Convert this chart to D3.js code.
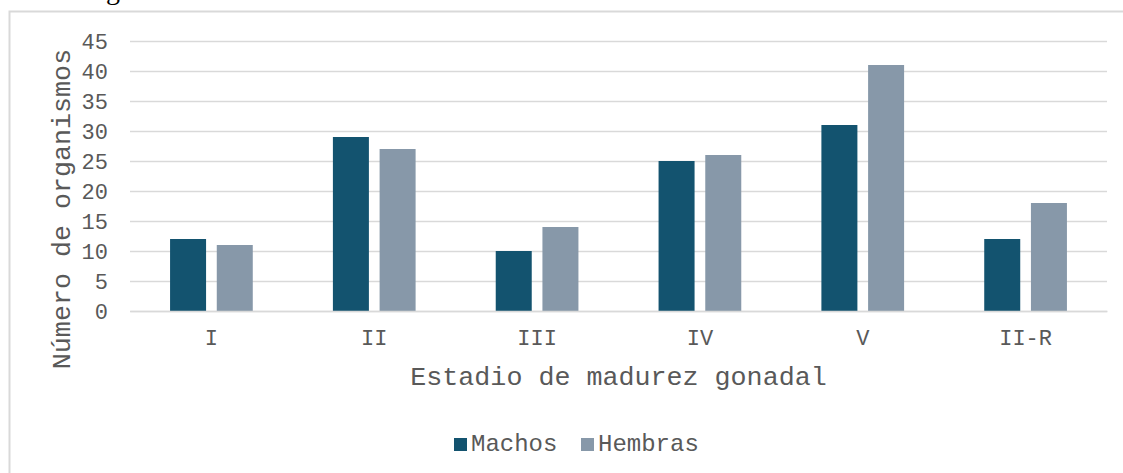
<!DOCTYPE html>
<html><head><meta charset="utf-8">
<script src="https://cdn.jsdelivr.net/npm/d3@7"></script>
<style>body{margin:0;background:#fff;overflow:hidden}</style>
</head><body>
<svg id="c" width="1123" height="473"></svg>
<script>
const categories = ["I", "II", "III", "IV", "V", "II-R"];
const seriesNames = ["Machos", "Hembras"];
const machos = [12, 29, 10, 25, 31, 12];
const hembras = [11, 27, 14, 26, 41, 18];
const yTicks = [0, 5, 10, 15, 20, 25, 30, 35, 40, 45];
const colors = ["#13536f", "#8798a9"];

const FONT = "'Courier New', 'Liberation Mono', monospace";
const svg = d3.select("#c");
const m = {left: 130, right: 1107, top: 41, bottom: 311};

// outer chart border (extends beyond picture)
svg.append("rect").attr("x", 9.5).attr("y", 11.5).attr("width", 1300).attr("height", 600)
  .attr("fill", "none").attr("stroke", "#d9d9d9").attr("stroke-width", 2);
// clipped title fragment above chart
svg.append("text").attr("x", 106).attr("y", -1).text("g")
  .attr("font-family", "'Liberation Serif', serif").attr("font-size", 28).attr("fill", "#000");

const x0 = d3.scaleBand().domain(categories).range([m.left, m.right]);
const x1 = d3.scaleBand().domain(seriesNames).range([0, 0]);
const y = d3.scaleLinear().domain([0, 45]).range([m.bottom, m.top]);

// gridlines
const yAxis = d3.axisLeft(y).tickValues(yTicks).tickSize(-(m.right - m.left)).tickPadding(22);
const gy = svg.append("g").attr("transform", `translate(${m.left},0)`).call(yAxis);
gy.select(".domain").remove();
gy.selectAll(".tick line").attr("stroke", "#d9d9d9").attr("stroke-width", 1.5);
gy.selectAll(".tick text").attr("font-family", FONT).attr("font-size", 22).attr("fill", "#595959");

// bars
const barW = 36, gap = 10.7;
const data = categories.map((c, i) => ({c, vals: [machos[i], hembras[i]]}));
const g = svg.append("g");
data.forEach(d => {
  const center = x0(d.c) + x0.bandwidth() / 2;
  d.vals.forEach((v, k) => {
    const xx = k === 0 ? center - gap / 2 - barW : center + gap / 2;
    g.append("rect").attr("x", xx).attr("y", y(v)).attr("width", barW)
      .attr("height", y(0) - y(v)).attr("fill", colors[k]);
  });
});

// x axis
const xAxis = d3.axisBottom(x0).tickSize(0).tickPadding(18);
const gx = svg.append("g").attr("transform", `translate(0,${m.bottom})`).call(xAxis);
gx.select(".domain").attr("stroke", "#d9d9d9").attr("stroke-width", 1.5);
gx.selectAll(".tick text").attr("font-family", FONT).attr("font-size", 22).attr("fill", "#595959");

// axis titles
svg.append("text").attr("x", (m.left + m.right) / 2).attr("y", 385).attr("text-anchor", "middle")
  .attr("font-family", FONT).attr("font-size", 26.7).attr("fill", "#595959").text("Estadio de madurez gonadal");
svg.append("text").attr("transform", "translate(70,209) rotate(-90)").attr("text-anchor", "middle")
  .attr("font-family", FONT).attr("font-size", 26.7).attr("fill", "#595959").text("Número de organismos");

// legend
const leg = svg.append("g");
const legX = [454, 581];
seriesNames.forEach((s, k) => {
  leg.append("rect").attr("x", legX[k]).attr("y", 438).attr("width", 13).attr("height", 13).attr("fill", colors[k]);
  leg.append("text").attr("x", legX[k] + 17).attr("y", 451).attr("font-family", FONT).attr("font-size", 24)
    .attr("fill", "#595959").text(s);
});
</script>
</body></html>
